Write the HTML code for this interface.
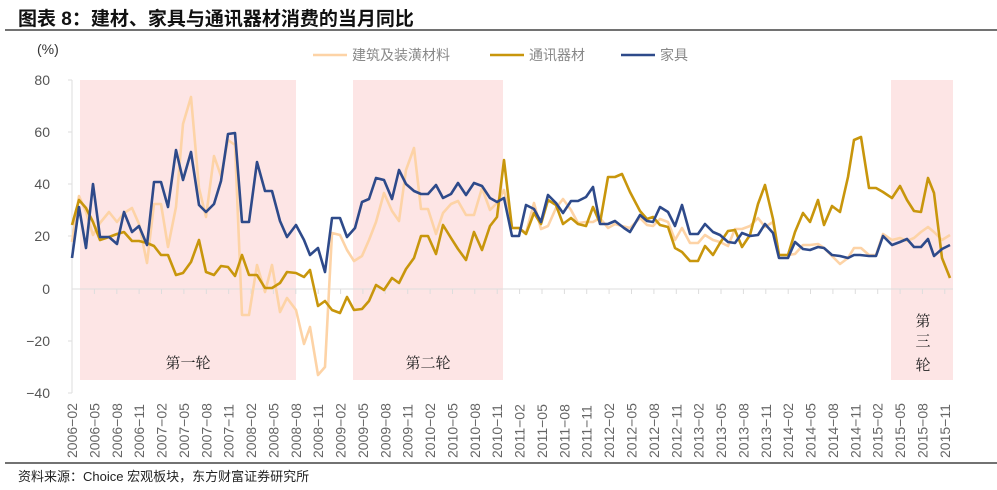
<!DOCTYPE html><html><head><meta charset="utf-8"><style>
body{margin:0;background:#fff;}
svg{display:block;font-family:"Liberation Sans","Noto Sans CJK SC",sans-serif;}
</style></head><body>
<svg width="997" height="490" viewBox="0 0 997 490" xmlns="http://www.w3.org/2000/svg">
<text x="18" y="25" font-size="19" font-weight="bold" fill="#111">图表 8：建材、家具与通讯器材消费的当月同比</text>
<line x1="5" y1="30" x2="997" y2="30" stroke="#444" stroke-width="1.5"/>
<rect x="80" y="80" width="216" height="300" fill="#fde5e5"/>
<rect x="353" y="80" width="150" height="300" fill="#fde5e5"/>
<rect x="891" y="80" width="62" height="300" fill="#fde5e5"/>
<text x="37" y="54" font-size="14" fill="#333">(%)</text>
<g font-size="14" fill="#555" text-anchor="end">
<text x="50" y="85">80</text><text x="50" y="137">60</text><text x="50" y="189">40</text><text x="50" y="241">20</text><text x="50" y="294">0</text><text x="50" y="346">−20</text><text x="50" y="398">−40</text></g>
<line x1="72" y1="80" x2="72" y2="393" stroke="#ddd"/>
<g stroke="#ddd"><line x1="68" y1="80" x2="72" y2="80"/><line x1="68" y1="132" x2="72" y2="132"/><line x1="68" y1="184" x2="72" y2="184"/><line x1="68" y1="236" x2="72" y2="236"/><line x1="68" y1="341" x2="72" y2="341"/><line x1="68" y1="393" x2="72" y2="393"/></g>
<line x1="72" y1="289" x2="953" y2="289" stroke="#ddd"/>
<g stroke="#ddd">
<line x1="72.0" y1="289" x2="72.0" y2="294"/><line x1="94.4" y1="289" x2="94.4" y2="294"/><line x1="116.8" y1="289" x2="116.8" y2="294"/><line x1="139.1" y1="289" x2="139.1" y2="294"/><line x1="161.5" y1="289" x2="161.5" y2="294"/><line x1="183.9" y1="289" x2="183.9" y2="294"/><line x1="206.3" y1="289" x2="206.3" y2="294"/><line x1="228.7" y1="289" x2="228.7" y2="294"/><line x1="251.0" y1="289" x2="251.0" y2="294"/><line x1="273.4" y1="289" x2="273.4" y2="294"/><line x1="295.8" y1="289" x2="295.8" y2="294"/><line x1="318.2" y1="289" x2="318.2" y2="294"/><line x1="340.6" y1="289" x2="340.6" y2="294"/><line x1="362.9" y1="289" x2="362.9" y2="294"/><line x1="385.3" y1="289" x2="385.3" y2="294"/><line x1="407.7" y1="289" x2="407.7" y2="294"/><line x1="430.1" y1="289" x2="430.1" y2="294"/><line x1="452.5" y1="289" x2="452.5" y2="294"/><line x1="474.8" y1="289" x2="474.8" y2="294"/><line x1="497.2" y1="289" x2="497.2" y2="294"/><line x1="519.6" y1="289" x2="519.6" y2="294"/><line x1="542.0" y1="289" x2="542.0" y2="294"/><line x1="564.4" y1="289" x2="564.4" y2="294"/><line x1="586.7" y1="289" x2="586.7" y2="294"/><line x1="609.1" y1="289" x2="609.1" y2="294"/><line x1="631.5" y1="289" x2="631.5" y2="294"/><line x1="653.9" y1="289" x2="653.9" y2="294"/><line x1="676.3" y1="289" x2="676.3" y2="294"/><line x1="698.6" y1="289" x2="698.6" y2="294"/><line x1="721.0" y1="289" x2="721.0" y2="294"/><line x1="743.4" y1="289" x2="743.4" y2="294"/><line x1="765.8" y1="289" x2="765.8" y2="294"/><line x1="788.2" y1="289" x2="788.2" y2="294"/><line x1="810.5" y1="289" x2="810.5" y2="294"/><line x1="832.9" y1="289" x2="832.9" y2="294"/><line x1="855.3" y1="289" x2="855.3" y2="294"/><line x1="877.7" y1="289" x2="877.7" y2="294"/><line x1="900.1" y1="289" x2="900.1" y2="294"/><line x1="922.4" y1="289" x2="922.4" y2="294"/><line x1="944.8" y1="289" x2="944.8" y2="294"/>
</g>
<g font-size="14" fill="#666">
<text transform="translate(77.0,458) rotate(-90)">2006−02</text>
<text transform="translate(99.4,458) rotate(-90)">2006−05</text>
<text transform="translate(121.8,458) rotate(-90)">2006−08</text>
<text transform="translate(144.1,458) rotate(-90)">2006−11</text>
<text transform="translate(166.5,458) rotate(-90)">2007−02</text>
<text transform="translate(188.9,458) rotate(-90)">2007−05</text>
<text transform="translate(211.3,458) rotate(-90)">2007−08</text>
<text transform="translate(233.7,458) rotate(-90)">2007−11</text>
<text transform="translate(256.0,458) rotate(-90)">2008−02</text>
<text transform="translate(278.4,458) rotate(-90)">2008−05</text>
<text transform="translate(300.8,458) rotate(-90)">2008−08</text>
<text transform="translate(323.2,458) rotate(-90)">2008−11</text>
<text transform="translate(345.6,458) rotate(-90)">2009−02</text>
<text transform="translate(367.9,458) rotate(-90)">2009−05</text>
<text transform="translate(390.3,458) rotate(-90)">2009−08</text>
<text transform="translate(412.7,458) rotate(-90)">2009−11</text>
<text transform="translate(435.1,458) rotate(-90)">2010−02</text>
<text transform="translate(457.5,458) rotate(-90)">2010−05</text>
<text transform="translate(479.8,458) rotate(-90)">2010−08</text>
<text transform="translate(502.2,458) rotate(-90)">2010−11</text>
<text transform="translate(524.6,458) rotate(-90)">2011−02</text>
<text transform="translate(547.0,458) rotate(-90)">2011−05</text>
<text transform="translate(569.4,458) rotate(-90)">2011−08</text>
<text transform="translate(591.7,458) rotate(-90)">2011−11</text>
<text transform="translate(614.1,458) rotate(-90)">2012−02</text>
<text transform="translate(636.5,458) rotate(-90)">2012−05</text>
<text transform="translate(658.9,458) rotate(-90)">2012−08</text>
<text transform="translate(681.3,458) rotate(-90)">2012−11</text>
<text transform="translate(703.6,458) rotate(-90)">2013−02</text>
<text transform="translate(726.0,458) rotate(-90)">2013−05</text>
<text transform="translate(748.4,458) rotate(-90)">2013−08</text>
<text transform="translate(770.8,458) rotate(-90)">2013−11</text>
<text transform="translate(793.2,458) rotate(-90)">2014−02</text>
<text transform="translate(815.5,458) rotate(-90)">2014−05</text>
<text transform="translate(837.9,458) rotate(-90)">2014−08</text>
<text transform="translate(860.3,458) rotate(-90)">2014−11</text>
<text transform="translate(882.7,458) rotate(-90)">2015−02</text>
<text transform="translate(905.1,458) rotate(-90)">2015−05</text>
<text transform="translate(927.4,458) rotate(-90)">2015−08</text>
<text transform="translate(949.8,458) rotate(-90)">2015−11</text>
</g>
<g fill="none" stroke-width="2.6" stroke-linejoin="round">
<polyline stroke="#fdd3a6" points="72,242 79,196 86,212 93,235 100,223 109,212 117,222 124,213 132,208 139,224 147,263 154,204 161,204 168,247 176,207 183,124 191,97 199,188 206,217 214,156 221,176 228,140 235,145 242,315 249,315 257,265 265,292 272,265 280,312 287,298 296,310 304,344 310,327 318,375 325,367 332,233 340,235 347,250 354,261 362,256 369,240 376,222 384,193 392,211 399,221 406,170 414,148 421,209 428,209 436,234 443,213 451,204 458,201 466,215 474,215 482,188 490,210 497,203 504,190 512,228 519,228 526,233 534,203 541,229 548,226 556,208 563,199 571,210 578,223 586,222 593,222 600,218 608,228 615,224 622,226 630,228 640,218 647,225 653,226 660,219 668,222 675,240 682,228 690,243 698,243 705,235 713,240 720,242 728,246 735,229 742,229 750,226 758,218 765,227 773,222 779,255 788,255 795,254 803,245 810,245 818,244 824,248 832,256 840,264 848,258 854,248 861,248 869,255 876,255 883,234 892,240 900,238 907,241 914,238 921,232 928,227 934,232 942,240 950,235"/>
<polyline stroke="#c8960c" points="72,225 79,200 86,208 93,222 100,240 109,237 117,234 124,232 132,241 139,241 147,243 154,246 161,255 168,255 176,275 183,273 191,262 199,240 206,272 214,275 221,266 228,267 235,276 242,255 249,275 257,275 265,288 272,288 280,283 287,272 296,273 304,277 310,270 318,306 325,301 332,310 340,313 347,297 354,310 362,309 369,301 376,285 384,290 392,278 399,283 406,269 414,258 421,236 428,236 436,254 443,225 451,238 458,249 466,260 474,232 482,250 490,226 497,217 504,160 512,228 519,228 526,234 534,213 541,224 548,200 556,205 563,224 571,218 578,224 586,226 593,207 600,223 608,177 615,177 622,174 630,192 640,211 647,219 653,217 660,225 668,227 675,248 682,252 690,261 698,261 705,246 713,255 720,243 728,231 735,230 742,247 750,235 758,204 765,185 773,219 779,255 788,255 795,232 803,213 810,222 818,200 824,225 832,206 840,212 848,177 854,140 861,137 869,188 876,188 883,192 892,198 900,186 907,200 914,211 921,212 928,178 934,193 942,258 950,278"/>
<polyline stroke="#2e4a8a" points="72,258 79,207 86,248 93,184 100,237 109,237 117,244 124,212 132,232 139,226 147,245 154,182 161,182 168,207 176,150 183,180 191,152 199,205 206,212 214,204 221,181 228,134 235,133 242,222 249,222 257,162 265,191 272,191 280,221 287,237 296,225 304,240 310,255 318,248 325,272 332,218 340,218 347,237 355,228 362,202 369,199 376,178 384,180 392,199 399,170 406,184 414,191 421,194 428,194 436,185 443,198 451,194 458,183 466,195 474,183 482,186 490,198 497,202 504,198 512,236 519,236 526,205 534,209 541,222 548,195 556,203 563,213 571,201 578,201 586,197 593,187 600,224 608,224 615,221 624,228 630,232 640,215 647,221 653,222 660,207 668,212 675,226 682,205 690,234 698,234 705,224 713,232 720,235 728,242 735,243 742,233 750,236 758,235 765,224 773,233 779,258 788,258 795,242 803,249 810,250 818,247 824,248 832,255 840,256 848,258 854,255 860,255 869,256 876,256 883,236 892,245 900,242 907,239 914,247 921,247 928,239 934,256 942,249 950,245"/>
</g>
<line x1="313" y1="55" x2="347" y2="55" stroke="#fdd3a6" stroke-width="2.6"/>
<text x="352" y="60" font-size="14" fill="#888">建筑及装潢材料</text>
<line x1="490" y1="55" x2="524" y2="55" stroke="#c8960c" stroke-width="2.6"/>
<text x="529" y="60" font-size="14" fill="#888">通讯器材</text>
<line x1="621" y1="55" x2="655" y2="55" stroke="#2e4a8a" stroke-width="2.6"/>
<text x="660" y="60" font-size="14" fill="#888">家具</text>
<g font-size="15" fill="#222" font-family="'Noto Serif CJK SC','Liberation Serif',serif">
<text x="188" y="368" text-anchor="middle">第一轮</text>
<text x="428" y="368" text-anchor="middle">第二轮</text>
<text x="923" y="326" text-anchor="middle">第</text>
<text x="923" y="346" text-anchor="middle">三</text>
<text x="923" y="370" text-anchor="middle">轮</text></g>
<line x1="5" y1="463" x2="997" y2="463" stroke="#444" stroke-width="1.5"/>
<text x="18" y="481" font-size="13" fill="#222">资料来源：Choice 宏观板块，东方财富证券研究所</text>
</svg></body></html>
